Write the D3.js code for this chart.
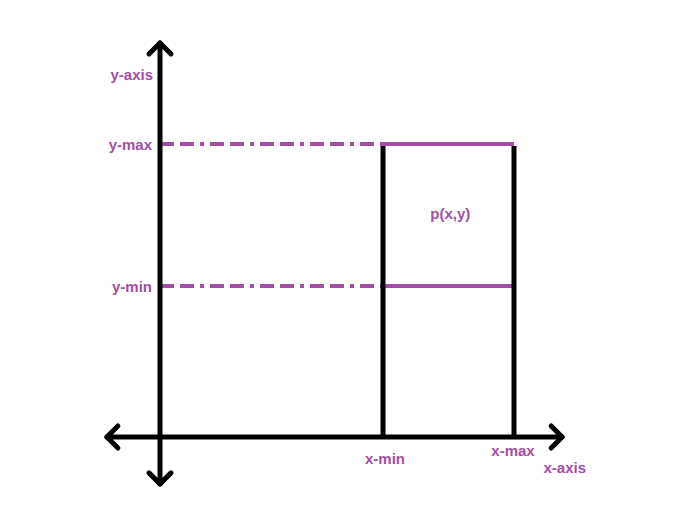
<!DOCTYPE html>
<html>
<head>
<meta charset="utf-8">
<script src="https://cdn.jsdelivr.net/npm/d3@7"></script>
<style>
  body { margin: 0; background: #fff; }
  text { font-family: "Liberation Sans", Arial, sans-serif; font-weight: bold; fill: #a24ea4; font-size: 15px; }
</style>
</head>
<body>
<svg id="chart"></svg>
<script>
const width = 675;
const height = 508;

// values in chart units
const xAxisExtent = [-1.5, 11.36];
const yAxisExtent = [-1.6, 13.45];
const xBounds = [6.3, 10];   // x-min, x-max
const yBounds = [5.15, 10];  // y-min, y-max
const labels = ["x-min", "x-max", "y-min", "y-max"];
const pointLabel = [8.2, 7.6];

const purple = "#a24ea4";

const svg = d3.select("#chart")
    .attr("width", width)
    .attr("height", height);

const x = d3.scaleLinear().domain([0, 10]).range([160, 514]);
const y = d3.scaleLinear().domain([0, 10]).range([437, 144]);

// dashed guides from y-axis to the box
yBounds.forEach(v => {
    svg.append("line")
        .attr("x1", x(0)).attr("x2", x(xBounds[0]))
        .attr("y1", y(v)).attr("y2", y(v))
        .attr("stroke", purple).attr("stroke-width", 4)
        .attr("stroke-dasharray", "14,6,14,6,4,6");
    // solid horizontal between x-min and x-max
    svg.append("line")
        .attr("x1", x(xBounds[0])).attr("x2", x(xBounds[1]))
        .attr("y1", y(v)).attr("y2", y(v))
        .attr("stroke", purple).attr("stroke-width", 4);
});

// vertical bounds
xBounds.forEach(v => {
    svg.append("line")
        .attr("x1", x(v)).attr("x2", x(v))
        .attr("y1", y(0)).attr("y2", y(yBounds[1]) + 2)
        .attr("stroke", "#000").attr("stroke-width", 5);
});

// axes
const axisStyle = sel => sel.attr("stroke", "#000").attr("stroke-width", 5)
    .attr("fill", "none").attr("stroke-linecap", "round").attr("stroke-linejoin", "round");

svg.append("line").call(axisStyle)
    .attr("x1", x(xAxisExtent[0])).attr("x2", x(xAxisExtent[1]))
    .attr("y1", y(0)).attr("y2", y(0));
svg.append("line").call(axisStyle)
    .attr("x1", x(0)).attr("x2", x(0))
    .attr("y1", y(yAxisExtent[0])).attr("y2", y(yAxisExtent[1]));

// chevron arrowheads
const a = 11;
const heads = [
    [x(xAxisExtent[1]), y(0), [[-a, -a], [0, 0], [-a, a]]],
    [x(xAxisExtent[0]), y(0), [[a, -a], [0, 0], [a, a]]],
    [x(0), y(yAxisExtent[1]), [[-a, a], [0, 0], [a, a]]],
    [x(0), y(yAxisExtent[0]), [[-a, -a], [0, 0], [a, -a]]]
];
heads.forEach(([cx, cy, pts]) => {
    svg.append("path").call(axisStyle)
        .attr("d", d3.line()(pts.map(p => [cx + p[0], cy + p[1]])));
});

// labels
svg.append("text").attr("x", x(xBounds[0]) + 2).attr("y", 464).attr("text-anchor", "middle").text(labels[0]);
svg.append("text").attr("x", x(xBounds[1]) - 1).attr("y", 456).attr("text-anchor", "middle").text(labels[1]);
svg.append("text").attr("x", 152).attr("y", y(yBounds[0]) + 6).attr("text-anchor", "end").text(labels[2]);
svg.append("text").attr("x", 152).attr("y", y(yBounds[1]) + 6).attr("text-anchor", "end").text(labels[3]);
svg.append("text").attr("x", 153).attr("y", 80).attr("text-anchor", "end").text("y-axis");
svg.append("text").attr("x", 586).attr("y", 473).attr("text-anchor", "end").text("x-axis");
svg.append("text").attr("x", x(pointLabel[0])).attr("y", y(pointLabel[1]) + 5).attr("text-anchor", "middle").text("p(x,y)");
</script>
</body>
</html>
